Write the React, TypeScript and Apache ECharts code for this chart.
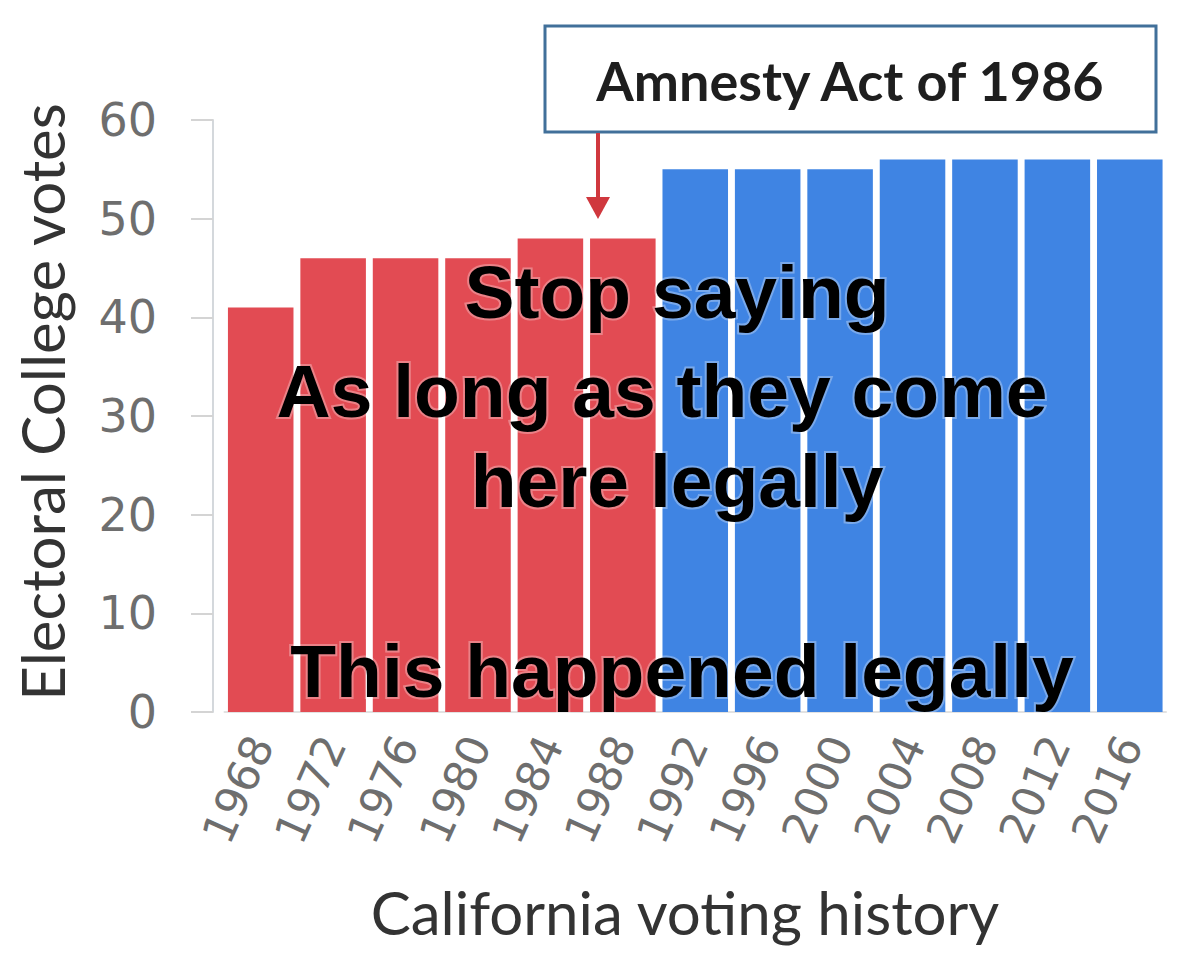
import React, { useEffect, useRef } from "react";
import * as echarts from "echarts";

const years = ["1968", "1972", "1976", "1980", "1984", "1988", "1992", "1996", "2000", "2004", "2008", "2012", "2016"];
const votes = [41, 46, 46, 46, 48, 48, 55, 55, 55, 56, 56, 56, 56];
const winners = ["R", "R", "R", "R", "R", "R", "D", "D", "D", "D", "D", "D", "D"];
const yTicks = [0, 10, 20, 30, 40, 50, 60];
const overlayLines = ["Stop saying", "As long as they come", "here legally", "This happened legally"];
const calloutText = "Amnesty Act of 1986";
const yTitle = "Electoral College votes";
const xTitle = "California voting history";

// layout of overlay lines (pixel centers)
const overlayX = [677, 662, 677, 682];
const overlayY = [292, 391, 481, 671];

const RED = "#E24B53";
const BLUE = "#3F84E3";

export default function App() {
  const ref = useRef<HTMLDivElement>(null);
  useEffect(() => {
    if (!ref.current) return;
    const chart = echarts.init(ref.current, null, { renderer: "svg" });
    chart.setOption({
      animation: false,
      backgroundColor: "#ffffff",
      grid: { left: 224.5, right: 25, top: 120, bottom: 254, containLabel: false },
      xAxis: {
        type: "category",
        data: years,
        axisLine: { show: true, lineStyle: { color: "#e2e2e2", width: 2 } },
        axisTick: { show: false },
        axisLabel: {
          rotate: 66,
          margin: 26,
          fontSize: 44,
          fontFamily: "DejaVu Sans",
          color: "#6e6e6e",
          interval: 0,
        },
      },
      yAxis: {
        type: "value",
        min: yTicks[0],
        max: yTicks[yTicks.length - 1],
        interval: 10,
        offset: 11.5,
        axisLine: { show: true, lineStyle: { color: "#d4d8dc", width: 2 } },
        axisTick: { show: true, length: 22, lineStyle: { color: "#d4d4d4", width: 2 } },
        splitLine: { show: false },
        axisLabel: {
          margin: 56,
          fontSize: 46,
          fontFamily: "DejaVu Sans",
          color: "#6e6e6e",
        },
      },
      series: [
        {
          type: "bar",
          barCategoryGap: "9.5%",
          data: votes.map((v, i) => ({
            value: v,
            itemStyle: { color: winners[i] === "R" ? RED : BLUE },
          })),
        },
      ],
      graphic: [
        {
          type: "text",
          x: 42,
          y: 402,
          rotation: Math.PI / 2,
          style: {
            text: yTitle,
            font: "60px Lato",
            fill: "#333333",
            align: "center",
            verticalAlign: "middle",
          },
        },
        {
          type: "text",
          x: 685,
          y: 912,
          style: {
            text: xTitle,
            font: "60px Lato",
            fill: "#333333",
            align: "center",
            verticalAlign: "middle",
          },
        },
        {
          type: "rect",
          shape: { x: 545, y: 26, width: 611, height: 106 },
          style: { fill: "#ffffff", stroke: "#41709A", lineWidth: 3 },
        },
        {
          type: "text",
          x: 850,
          y: 80,
          style: {
            text: calloutText,
            font: "bold 54px Lato",
            fill: "#1e1e1e",
            align: "center",
            verticalAlign: "middle",
          },
        },
        {
          type: "line",
          shape: { x1: 598, y1: 133, x2: 598, y2: 205 },
          style: { stroke: "#D0383E", lineWidth: 4 },
        },
        {
          type: "polygon",
          shape: { points: [[586, 197], [610, 197], [598, 219]] },
          style: { fill: "#D0383E" },
        },
        ...overlayLines.map((line, i) => ({
          type: "text",
          x: overlayX[i],
          y: overlayY[i],
          z: 100,
          style: {
            text: line,
            font: "bold 75px 'Liberation Sans', Arial, sans-serif",
            fill: "#000000",
            align: "center",
            verticalAlign: "middle",
            stroke: "rgba(255,255,255,0.3)",
            lineWidth: 4,
          },
        })),
      ],
    });
    return () => chart.dispose();
  }, []);
  return (
    <div
      ref={ref}
      style={{ position: "absolute", left: 0, top: 0, width: 1191, height: 966 }}
    />
  );
}
